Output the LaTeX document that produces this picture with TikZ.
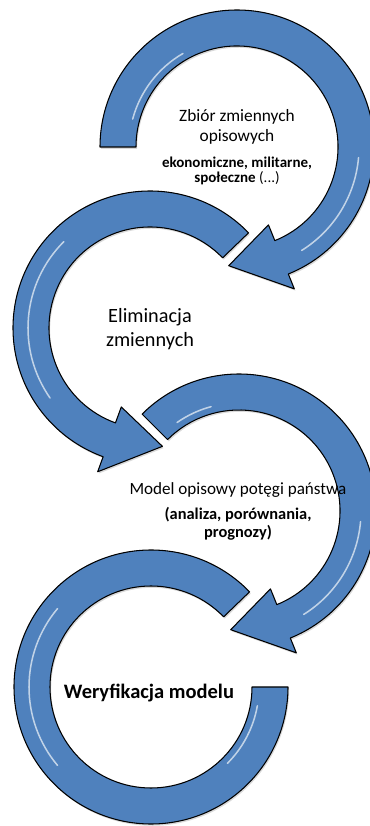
\documentclass[tikz,border=0pt]{standalone}
\usepackage{fontspec}
\setmainfont{Carlito}
\usetikzlibrary{shadows}
\definecolor{ringblue}{RGB}{79,129,189}
\begin{document}
\begin{tikzpicture}[x=0.03cm,y=0.03cm,
		ring/.style={fill=ringblue,draw=black,line width=0.9pt,line join=round,
			drop shadow={shadow xshift=1pt,shadow yshift=-1.5pt,opacity=0.3}},
		gloss/.style={white,opacity=0.65,line width=1.3pt,line cap=round},
		txt/.style={align=center,inner sep=0pt}]
			\useasboundingbox (0,0) rectangle (370,826);
			\filldraw[ring,shift={(237,679)}] (180:137) arc (180:-68:137) --(-68:153) --(-94:119) --(-68:84) --(-68:101) arc (-68:180:101) --cycle;
			\filldraw[ring,shift={(150,498)}] (44:137) arc (44:250:137) --(250:153) --(276:119) --(250:84) --(250:101) arc (250:44:101) --cycle;
			\filldraw[ring,shift={(239,315)}] (135:137) arc (135:-68:137) --(-68:153) --(-94:119) --(-68:84) --(-68:101) arc (-68:135:101) --cycle;
			\filldraw[ring,shift={(151,139)}] (44:137) arc (44:360:137) --(360:101) arc (360:44:101) --cycle;
			\draw[gloss,shift={(237,679)}] (-5:122) arc (-5:-58:122);
			\draw[gloss,shift={(237,679)}] (165:108) arc (165:120:108);
			\draw[gloss,shift={(150,498)}] (135:122) arc (135:215:122);
			\draw[gloss,shift={(239,315)}] (-5:122) arc (-5:-58:122);
			\draw[gloss,shift={(239,315)}] (125:108) arc (125:105:108);
			\draw[gloss,shift={(151,139)}] (140:122) arc (140:220:122);
			\draw[gloss,shift={(151,139)}] (-10:108) arc (-10:-45:108);
			\node[txt,font=\fontsize{14.8}{16.5}\selectfont] (zbior) at (237,699) {Zbiór zmiennych\\opisowych};
			\node[txt,font=\bfseries\fontsize{12.8}{13.5}\selectfont] (ekon) at (237,655) {ekonomiczne, militarne,\\społeczne \mdseries(...)};
			\node[txt,font=\fontsize{17.3}{20}\selectfont] (elim) at (150,497) {Eliminacja\\zmiennych};
			\node[txt,font=\fontsize{14.6}{16}\selectfont] (model) at (238,336) {Model opisowy potęgi państwa};
			\node[txt,font=\bfseries\fontsize{14}{15.5}\selectfont] (anal) at (238,302) {(analiza, porównania,\\prognozy)};
			\node[txt,font=\bfseries\fontsize{17.5}{19}\selectfont] (weryf) at (149,133) {Weryfikacja modelu};
		\end{tikzpicture}
\end{document}
